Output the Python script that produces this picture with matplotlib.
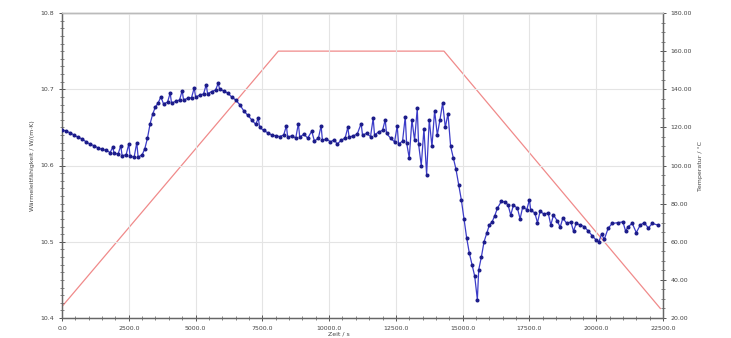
import numpy as np
import matplotlib.pyplot as plt
from matplotlib.ticker import MultipleLocator, FormatStrFormatter

# measured signal (left axis)
time_s = [
    0, 150, 300, 450, 600, 750, 900, 1050, 1200, 1350, 1500, 1650, 1800, 1900,
    1950, 2100, 2200, 2250, 2400, 2500, 2550, 2700, 2800, 2850,
    3000, 3100, 3200, 3300, 3400, 3500, 3600, 3700,
    3800, 3950, 4050, 4100, 4250, 4400, 4500, 4550, 4700, 4850, 4950, 5000,
    5150, 5300, 5400, 5450, 5600, 5750, 5850, 5900, 6050, 6200,
    6350, 6500, 6650, 6800, 6950, 7100, 7250, 7350, 7400, 7550, 7700, 7850,
    8000, 8150,
    8300, 8400, 8450, 8600, 8750, 8850, 8900, 9050, 9200, 9350, 9450, 9600,
    9700, 9750, 9900, 10050, 10200, 10300, 10450, 10600, 10700, 10750, 10900,
    11050, 11200, 11250, 11400, 11550, 11650, 11700, 11850, 12000, 12100,
    12150, 12300, 12450, 12550, 12600, 12750, 12850, 12900, 13000, 13100,
    13200, 13300, 13350, 13450, 13550, 13650, 13750, 13850, 13950, 14050,
    14150, 14250, 14350, 14450,
    14550, 14650, 14750, 14850, 14950, 15050, 15150, 15250, 15350, 15450,
    15550, 15600, 15700,
    15800, 15900, 16000, 16100, 16200, 16300, 16450, 16600, 16700, 16800,
    16900, 17050, 17150, 17250, 17400, 17500, 17550, 17700, 17800, 17900,
    18050, 18200, 18300, 18400, 18550, 18650, 18750, 18900, 19050, 19150,
    19250, 19400, 19550, 19700, 19850, 20000, 20100, 20200, 20300, 20450,
    20600, 20800, 21000, 21100, 21200, 21350, 21500, 21650, 21800, 21950,
    22100, 22300,
]
signal = [
    10.647, 10.645, 10.643, 10.640, 10.637, 10.635, 10.631, 10.628, 10.626,
    10.623, 10.621, 10.620, 10.617, 10.624, 10.616, 10.615, 10.626, 10.613,
    10.614, 10.628, 10.612, 10.611, 10.630, 10.611,
    10.614, 10.622, 10.636, 10.655, 10.668, 10.677, 10.682, 10.690,
    10.681, 10.683, 10.695, 10.682, 10.684, 10.686, 10.698, 10.686, 10.688,
    10.689, 10.702, 10.690, 10.692, 10.694, 10.706, 10.694, 10.697, 10.699,
    10.708, 10.700, 10.698, 10.695,
    10.690, 10.686, 10.680, 10.672, 10.666, 10.660, 10.654, 10.662, 10.650,
    10.646, 10.643, 10.640, 10.639, 10.638,
    10.640, 10.652, 10.637, 10.639, 10.636, 10.655, 10.637, 10.641, 10.636,
    10.645, 10.632, 10.636, 10.652, 10.633, 10.635, 10.631, 10.634, 10.628,
    10.633, 10.636, 10.650, 10.637, 10.639, 10.641, 10.655, 10.640, 10.642,
    10.638, 10.662, 10.640, 10.644, 10.646, 10.660, 10.642, 10.636, 10.631,
    10.652, 10.628, 10.632, 10.664, 10.630, 10.610, 10.660, 10.633, 10.675,
    10.628, 10.600, 10.648, 10.588, 10.660, 10.625, 10.672, 10.640, 10.660,
    10.682, 10.650, 10.668,
    10.625, 10.610, 10.595, 10.575, 10.555, 10.530, 10.505, 10.485, 10.470,
    10.455, 10.424, 10.463, 10.480,
    10.500, 10.511, 10.522, 10.526, 10.534, 10.544, 10.553, 10.552, 10.548,
    10.535, 10.548, 10.544, 10.530, 10.546, 10.542, 10.555, 10.541, 10.538,
    10.525, 10.540, 10.536, 10.538, 10.522, 10.535, 10.527, 10.519, 10.531,
    10.524, 10.526, 10.514, 10.524, 10.522, 10.520, 10.514, 10.508, 10.502,
    10.500, 10.510, 10.503, 10.518, 10.524, 10.525, 10.526, 10.514, 10.520,
    10.524, 10.512, 10.522, 10.525, 10.518, 10.524, 10.522,
]

# temperature program (right axis)
temp_time = [0, 8100, 14300, 22400]
temp_value = [26, 160, 160, 25]

fig = plt.figure(figsize=(7.31, 3.38), dpi=100)
ax = fig.add_axes([62 / 731, 20 / 338, 601 / 731, 305 / 338])
ax2 = ax.twinx()

ax2.plot(temp_time, temp_value, color="#f08a8a", lw=0.9, zorder=1)
ax.plot(time_s, signal, color="#3c3cc8", lw=0.9, marker="o", ms=1.9,
        mfc="#1c1c8a", mec="#1c1c8a", zorder=3)

ax.set_zorder(ax2.get_zorder() + 1)
ax.patch.set_visible(False)

ax.set_xlim(0, 22500)
ax.set_ylim(10.4, 10.8)
ax2.set_ylim(20, 180)

ax.xaxis.set_major_locator(MultipleLocator(2500))
ax.xaxis.set_minor_locator(MultipleLocator(500))
ax.yaxis.set_major_locator(MultipleLocator(0.1))
ax.yaxis.set_minor_locator(MultipleLocator(0.01))
ax2.yaxis.set_major_locator(MultipleLocator(20))
ax2.yaxis.set_minor_locator(MultipleLocator(5))
ax.xaxis.set_major_formatter(FormatStrFormatter("%.1f"))
ax.yaxis.set_major_formatter(FormatStrFormatter("%.1f"))
ax2.yaxis.set_major_formatter(FormatStrFormatter("%.2f"))

ax.grid(True, which="major", color="#e4e4e4", lw=0.8)

for a in (ax, ax2):
    a.tick_params(which="both", direction="inout", colors="#555555",
                  labelsize=4.5, labelcolor="#444444")
    a.tick_params(which="major", length=4, width=0.7)
    a.tick_params(which="minor", length=2.5, width=0.5)
    for s in a.spines.values():
        s.set_color("#666666")
        s.set_linewidth(0.9)
ax.spines["top"].set_color("#bbbbbb")

ax.set_xlabel("Zeit / s", fontsize=4.5, color="#444444", labelpad=2)
ax.xaxis.set_label_coords(0.46, -0.045)
ax.set_ylabel("Wärmeleitfähigkeit / W/(m·K)", fontsize=4.5, color="#444444")
ax2.set_ylabel("Temperatur / °C", fontsize=4.5, color="#444444")

fig.savefig("out.png", dpi=100)
